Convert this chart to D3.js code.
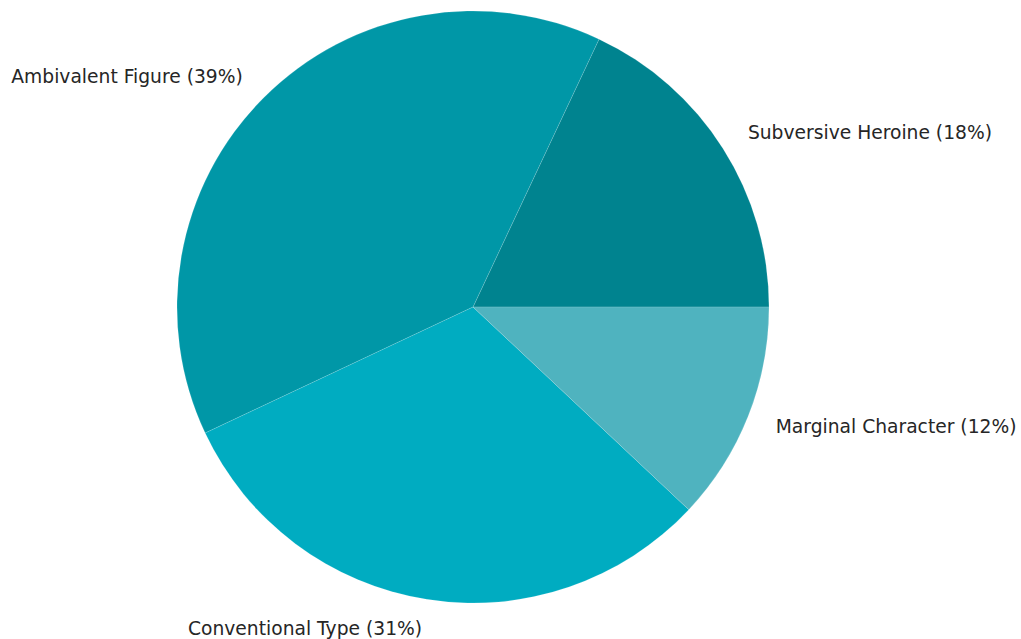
<!DOCTYPE html>
<html>
<head>
<meta charset="utf-8">
<script src="https://cdn.jsdelivr.net/npm/d3@7"></script>
<style>
html,body{margin:0;padding:0;background:#fff;}
text{font-family:"DejaVu Sans",sans-serif;}
</style>
</head>
<body>
<svg id="chart" width="1021" height="639"></svg>
<script>
const categories = ["Subversive Heroine", "Ambivalent Figure", "Conventional Type", "Marginal Character"];
const values = [18, 39, 31, 12];
const colors = ["#00838f", "#0097a7", "#00acc1", "#4fb3bf"];

const W = 1021, H = 639;
const cx = 473, cy = 307, R = 296;
const svg = d3.select("#chart");
const g = svg.append("g").attr("transform", `translate(${cx},${cy})`);

const data = categories.map((c, i) => ({cat: c, v: values[i], color: colors[i]}));
const total = d3.sum(values);

// matplotlib: start at 3 o'clock, counterclockwise. d3: 0 at 12 o'clock, clockwise.
const pie = d3.pie().value(d => d.v).sort(null)
  .startAngle(Math.PI / 2).endAngle(Math.PI / 2 - 2 * Math.PI);
const arcs = pie(data);
const arc = d3.arc().innerRadius(0).outerRadius(R);

g.selectAll("path").data(arcs).join("path")
  .attr("d", arc)
  .attr("fill", d => d.data.color)
  .attr("stroke", "#ffffff")
  .attr("stroke-width", 0.4)
  .attr("stroke-opacity", 0.35);

g.selectAll("text.lbl").data(arcs).join("text")
  .attr("class", "lbl")
  .each(function(d) {
    const mid = (d.startAngle + d.endAngle) / 2;
    const x = Math.sin(mid) * R * 1.1;
    const y = -Math.cos(mid) * R * 1.1;
    d3.select(this)
      .attr("x", x).attr("y", y)
      .attr("text-anchor", x < 0 ? "end" : "start");
  })
  .attr("dy", "0.32em")
  .attr("font-size", "18.7px")
  .attr("fill", "#262626")
  .text(d => `${d.data.cat} (${Math.round(d.data.v / total * 100)}%)`);
</script>
</body>
</html>
